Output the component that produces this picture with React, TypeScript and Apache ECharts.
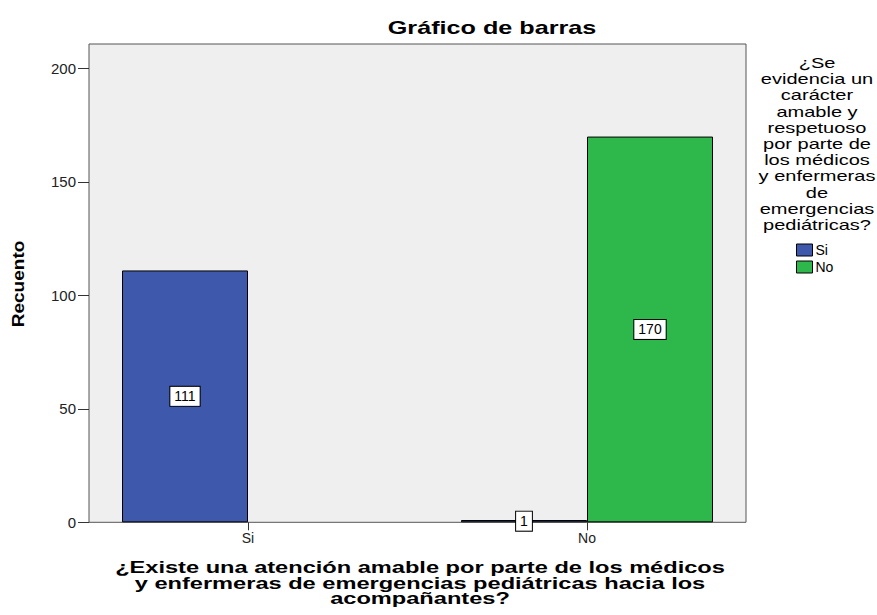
import React, { useEffect, useRef } from "react";
import * as echarts from "echarts";

const categories = ["Si", "No"];
const seriesNames = ["Si", "No"];
const valuesSi = [111, 1];
const valuesNo = [0, 170];
const yTicks = { min: 0, max: 200, interval: 50 };
const chartTitle = "Gráfico de barras";
const yTitle = "Recuento";
const xTitle =
  "¿Existe una atención amable por parte de los médicos\ny enfermeras de emergencias pediátricas hacia los\nacompañantes?";
const legendTitle =
  "¿Se\nevidencia un\ncarácter\namable y\nrespetuoso\npor parte de\nlos médicos\ny enfermeras\nde\nemergencias\npediátricas?";

const FONT = "'Liberation Sans', Arial, sans-serif";
const colors = ["#3e58ac", "#2eb84b"];

export default function App() {
  const ref = useRef<HTMLDivElement>(null);
  useEffect(() => {
    document.body.style.margin = "0";
    const chart = echarts.init(ref.current!, null, { renderer: "svg" });
    const plotTop = 68.5;
    const plotBottom = 522.3;
    const h = plotBottom - plotTop;
    const label = {
      show: true,
      position: "inside",
      backgroundColor: "#fff",
      borderColor: "#000",
      borderWidth: 1,
      padding: [3, 4, 2, 4],
      color: "#000",
      fontFamily: FONT,
      fontSize: 14,
    };
    const mk = (vals: number[]) =>
      vals.map((v) =>
        v === 0
          ? { value: v, label: { show: false }, itemStyle: { borderWidth: 0, opacity: 0 } }
          : { value: v }
      );
    chart.setOption({
      animation: false,
      textStyle: { fontFamily: FONT },
      grid: [
        {
          left: 89, top: 44, width: 657, height: 478.3,
          show: true, backgroundColor: "#efefef", borderColor: "#555", borderWidth: 1,
        },
        { left: 89, top: plotTop, width: 657, height: h },
        { left: 78.5, top: plotTop, width: 678, height: h },
      ],
      xAxis: [
        { gridIndex: 0, type: "category", data: categories, show: false },
        { gridIndex: 1, type: "category", data: categories, show: false },
        {
          gridIndex: 2, type: "category", data: categories,
          axisLine: { show: false },
          axisTick: { show: true, alignWithLabel: true, length: 8, lineStyle: { color: "#333" } },
          axisLabel: { fontSize: 14, color: "#222", margin: 9, fontFamily: FONT },
          splitLine: { show: false },
        },
      ],
      yAxis: [
        { gridIndex: 0, type: "value", show: false, min: 0, max: 1 },
        {
          gridIndex: 1, type: "value", min: yTicks.min, max: yTicks.max, interval: yTicks.interval,
          axisLine: { show: false },
          axisTick: { show: true, length: 11, lineStyle: { color: "#333" } },
          axisLabel: { fontSize: 15, color: "#222", margin: 13, fontFamily: FONT },
          splitLine: { show: false },
        },
        { gridIndex: 2, type: "value", min: yTicks.min, max: yTicks.max, show: false },
      ],
      legend: {
        orient: "vertical",
        left: 796,
        top: 243,
        padding: 0,
        itemWidth: 16,
        itemHeight: 12,
        itemGap: 3,
        icon: "rect",
        itemStyle: { borderColor: "#000", borderWidth: 1 },
        textStyle: { fontSize: 14, color: "#000", fontFamily: FONT, padding: [0, 0, 0, -2] },
        data: seriesNames,
      },
      series: [
        {
          name: seriesNames[0], type: "bar", xAxisIndex: 2, yAxisIndex: 2,
          data: mk(valuesSi), barWidth: 126, barGap: "0%",
          itemStyle: { color: colors[0], borderColor: "#000", borderWidth: 1 },
          label,
        },
        {
          name: seriesNames[1], type: "bar", xAxisIndex: 2, yAxisIndex: 2,
          data: mk(valuesNo), barWidth: 126, barGap: "0%",
          itemStyle: { color: colors[1], borderColor: "#000", borderWidth: 1 },
          label,
        },
      ],
      graphic: [
        {
          type: "text", x: 492, y: 28, scaleX: 1.4,
          style: {
            text: chartTitle, font: `bold 18px ${FONT}`, fill: "#000",
            textAlign: "center", textVerticalAlign: "middle",
          },
        },
        {
          type: "text", x: 18, y: 284, rotation: Math.PI / 2, scaleX: 1.12,
          style: {
            text: yTitle, font: `bold 17px ${FONT}`, fill: "#000",
            textAlign: "center", textVerticalAlign: "middle",
          },
        },
        {
          type: "text", x: 420, y: 560, scaleX: 1.475,
          style: {
            text: xTitle, font: `bold 16px ${FONT}`, fill: "#000",
            textAlign: "center", textVerticalAlign: "top", lineHeight: 15.5,
          },
        },
        {
          type: "text", x: 817, y: 55, scaleX: 1.43,
          style: {
            text: legendTitle, font: `14px ${FONT}`, fill: "#000",
            textAlign: "center", textVerticalAlign: "top", lineHeight: 16.2,
          },
        },
      ],
    });
    return () => chart.dispose();
  }, []);
  return <div ref={ref} style={{ width: 877, height: 615 }} />;
}
